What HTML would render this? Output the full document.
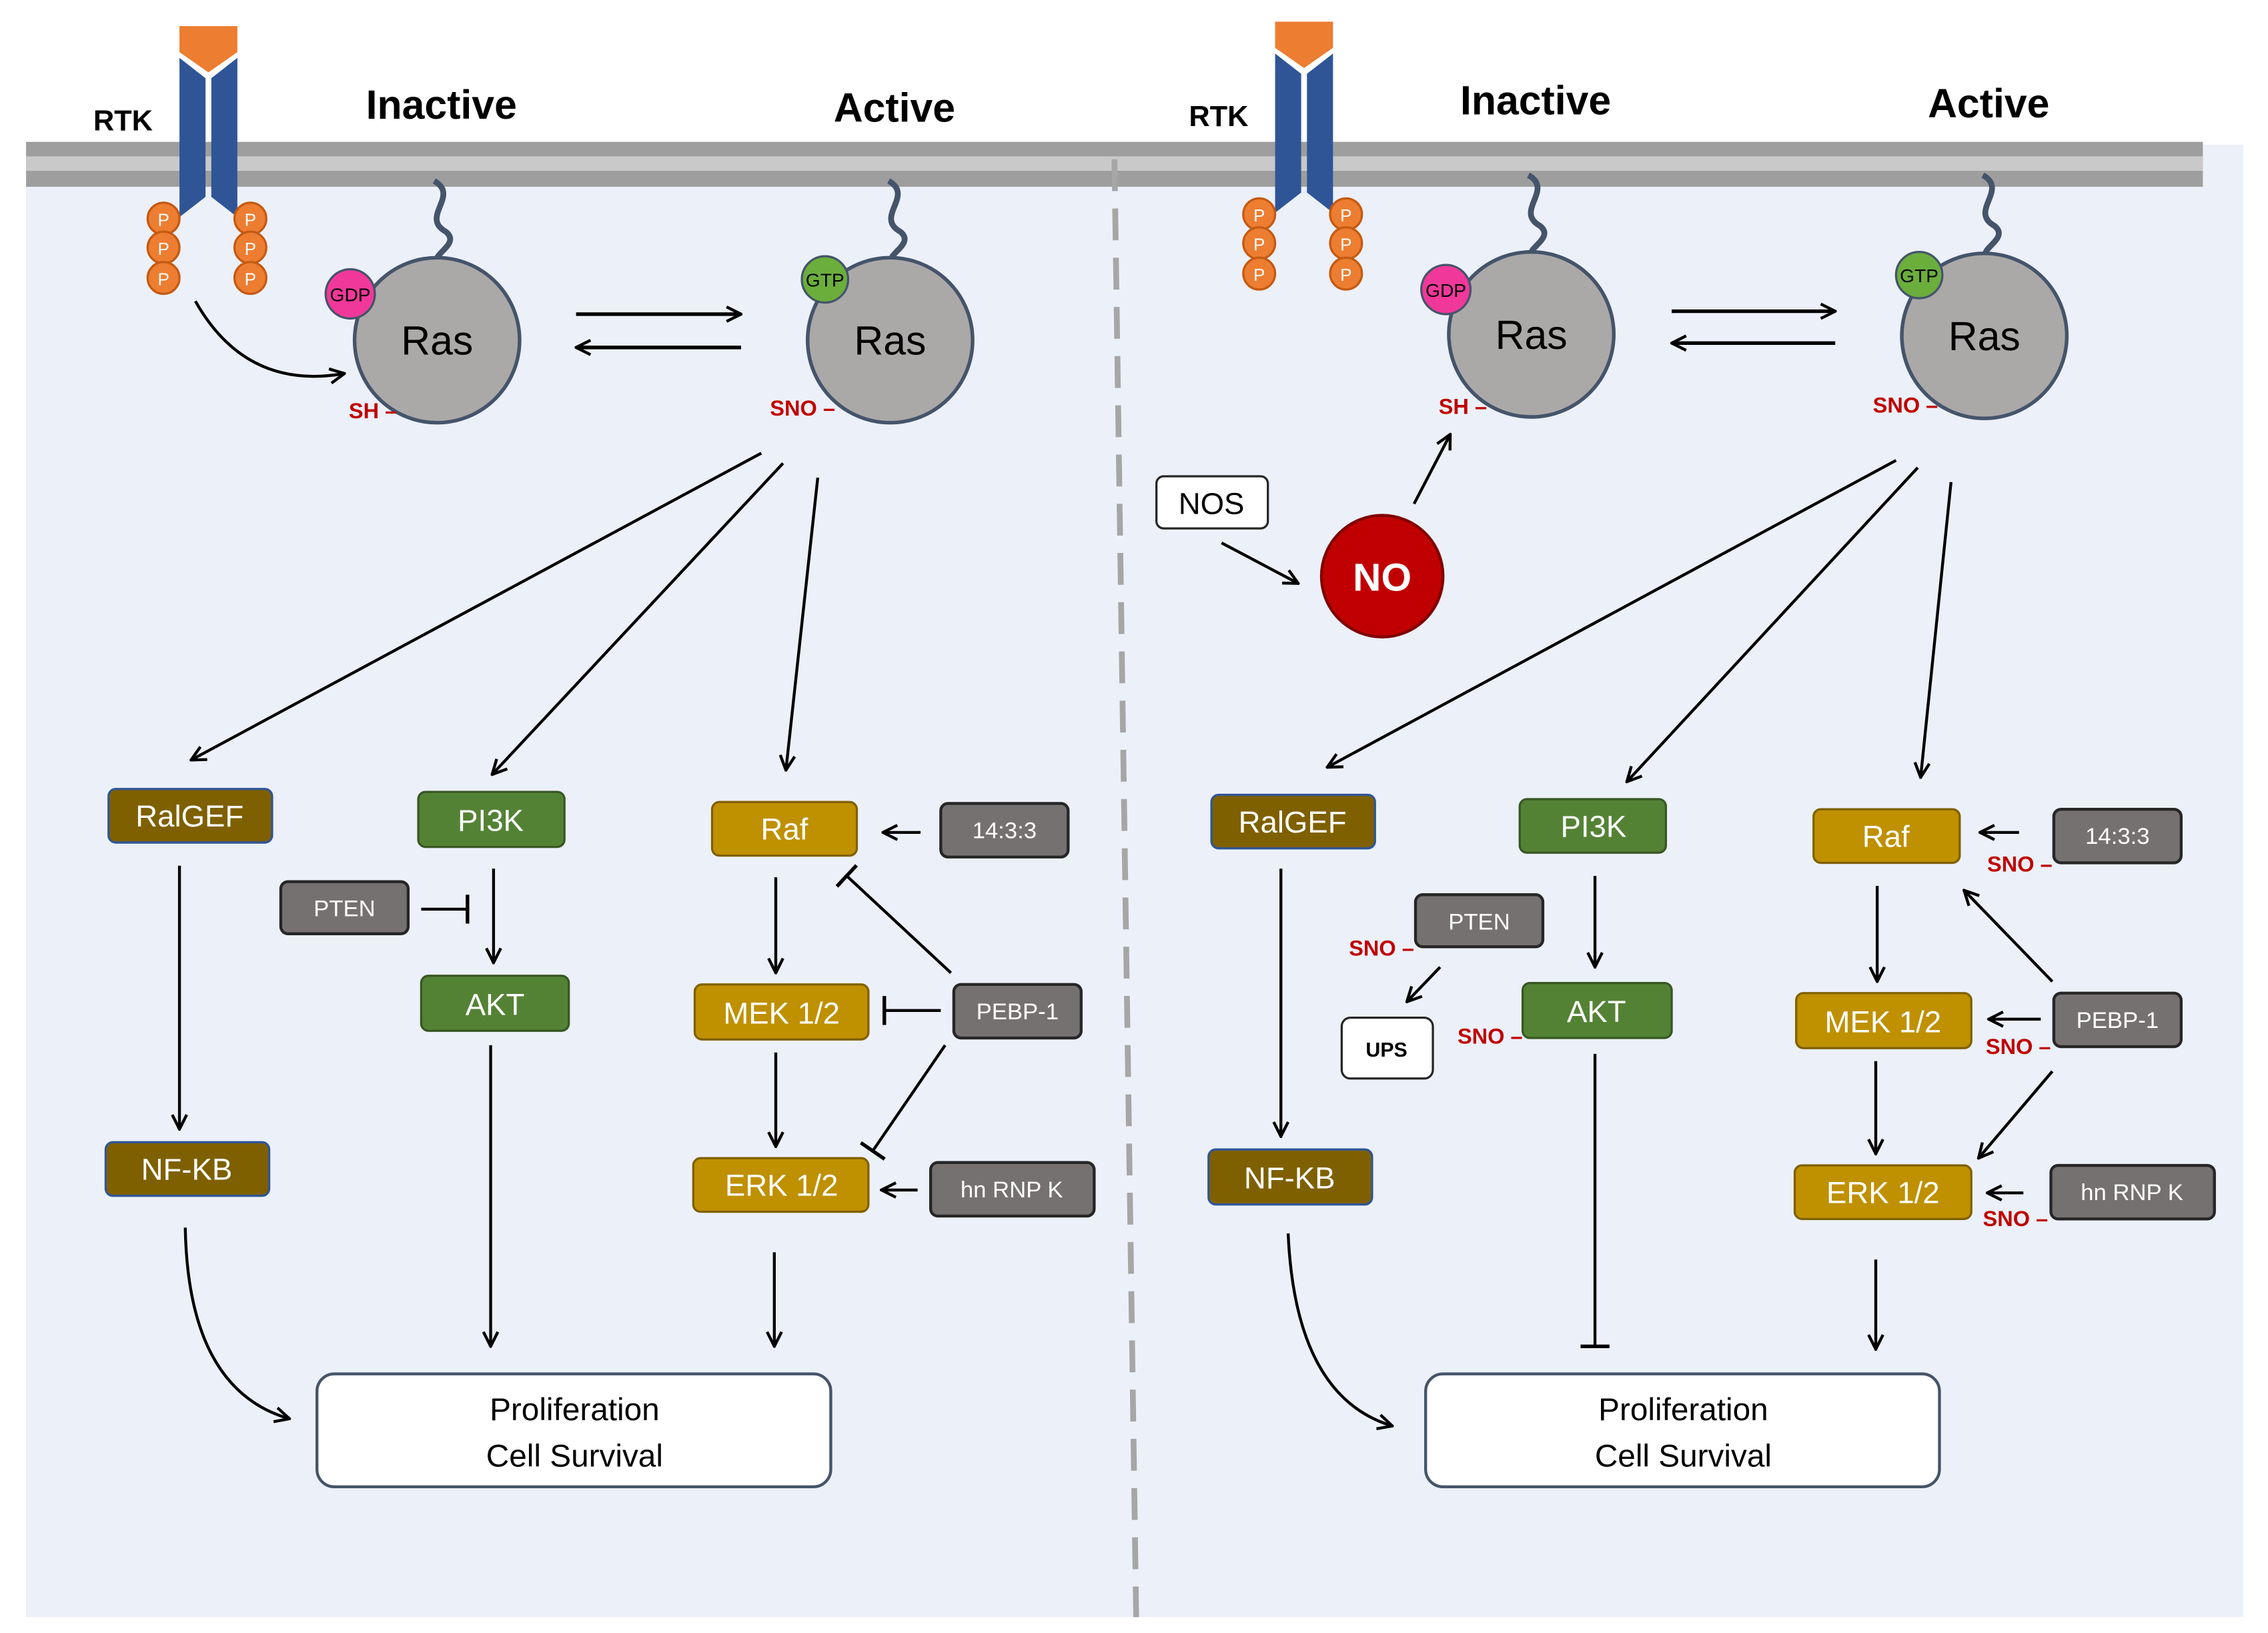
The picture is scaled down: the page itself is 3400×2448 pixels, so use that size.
<!DOCTYPE html>
<html><head><meta charset="utf-8"><style>
html,body{margin:0;padding:0;background:#fff}
svg{display:block}
text{font-family:"Liberation Sans",sans-serif}
</style></head><body>
<svg width="3400" height="2448" viewBox="0 0 1567 1128" preserveAspectRatio="none" xmlns="http://www.w3.org/2000/svg">
<defs>
<marker id="a" viewBox="0 0 12 12" refX="11" refY="6" markerWidth="12" markerHeight="12" markerUnits="userSpaceOnUse" orient="auto"><path d="M1,1 L11,6 L1,11" fill="none" stroke="#000" stroke-width="2"/></marker>
<marker id="b" viewBox="0 0 4 20" refX="2" refY="10" markerWidth="4" markerHeight="20" markerUnits="userSpaceOnUse" orient="auto"><path d="M2,0 L2,20" stroke="#000" stroke-width="2.5"/></marker>
</defs>
<rect x="18" y="100" width="1532" height="1017" fill="#ECF0F9"/>
<rect x="18" y="98" width="1504" height="31" fill="#9E9E9E"/>
<rect x="18" y="108" width="1504" height="10" fill="#C9C9C9"/>
<line x1="770" y1="110" x2="785" y2="1117" stroke="#A6A6A6" stroke-width="4" stroke-dasharray="22 12"/>

<g id="rtk">
<polygon points="124,18 164,18 164,36 144,50 124,36" fill="#ED7D31"/>
<polygon points="124,40 142,54 142,136 124,150" fill="#2F5597"/>
<polygon points="164,40 146,54 146,136 164,150" fill="#2F5597"/>
<g fill="#ED7D31" stroke="#C55A11" stroke-width="1.5">
<circle cx="113" cy="151" r="11"/><circle cx="113" cy="171" r="11"/><circle cx="113" cy="192" r="11"/>
<circle cx="173" cy="151" r="11"/><circle cx="173" cy="171" r="11"/><circle cx="173" cy="192" r="11"/>
</g>
<g fill="#fff" font-size="12" text-anchor="middle"><text x="113" y="156">P</text><text x="113" y="176">P</text><text x="113" y="197">P</text><text x="173" y="156">P</text><text x="173" y="176">P</text><text x="173" y="197">P</text></g>
</g>

<!-- LEFT PANEL -->
<text x="85" y="90" font-size="20" font-weight="bold" text-anchor="middle">RTK</text>
<text x="305" y="82" font-size="28" font-weight="bold" text-anchor="middle">Inactive</text>
<text x="618" y="84" font-size="28" font-weight="bold" text-anchor="middle">Active</text>
<path d="M135,208 Q170,270 238,258" fill="none" stroke="#000" stroke-width="2" marker-end="url(#a)"/>
<path d="M300,125 C318,135 290,150 308,160 C318,168 300,175 302,180" fill="none" stroke="#44546A" stroke-width="4"/>
<circle cx="302" cy="235" r="57" fill="#ABA8A8" stroke="#44546A" stroke-width="2.5"/>
<circle cx="242" cy="203" r="17" fill="#F0389A" stroke="#44546A" stroke-width="1.5"/>
<text x="242" y="208" font-size="13" text-anchor="middle">GDP</text>
<text x="302" y="245" font-size="28" text-anchor="middle">Ras</text>
<text x="241" y="289" font-size="15" font-weight="bold" fill="#C00000">SH –</text>
<path d="M614,125 C632,135 604,150 622,160 C632,168 614,175 616,180" fill="none" stroke="#44546A" stroke-width="4"/>
<circle cx="615" cy="235" r="57" fill="#ABA8A8" stroke="#44546A" stroke-width="2.5"/>
<circle cx="570" cy="193" r="16" fill="#6BAE3C" stroke="#44546A" stroke-width="1.5"/>
<text x="570" y="198" font-size="13" text-anchor="middle">GTP</text>
<text x="615" y="245" font-size="28" text-anchor="middle">Ras</text>
<text x="532" y="287" font-size="15" font-weight="bold" fill="#C00000">SNO –</text>
<g stroke="#000" stroke-width="2.5" fill="none"><line x1="398" y1="217" x2="512" y2="217" marker-end="url(#a)"/><line x1="512" y1="240" x2="398" y2="240" marker-end="url(#a)"/></g>
<g stroke="#000" stroke-width="2" fill="none">
<line x1="526" y1="313" x2="132" y2="525" marker-end="url(#a)"/>
<line x1="541" y1="320" x2="340" y2="535" marker-end="url(#a)"/>
<line x1="565" y1="330" x2="543" y2="532" marker-end="url(#a)"/>
<line x1="124" y1="598" x2="124" y2="780" marker-end="url(#a)"/>
<line x1="341" y1="600" x2="341" y2="665" marker-end="url(#a)"/>
<line x1="291" y1="628" x2="323" y2="628" marker-end="url(#b)"/>
<line x1="339" y1="722" x2="339" y2="930" marker-end="url(#a)"/>
<line x1="536" y1="606" x2="536" y2="672" marker-end="url(#a)"/>
<line x1="536" y1="727" x2="536" y2="792" marker-end="url(#a)"/>
<line x1="636" y1="575" x2="610" y2="575" marker-end="url(#a)"/>
<line x1="657" y1="672" x2="585" y2="605" marker-end="url(#b)"/>
<line x1="650" y1="698" x2="611" y2="698" marker-end="url(#b)"/>
<line x1="653" y1="722" x2="603" y2="795" marker-end="url(#b)"/>
<line x1="634" y1="822" x2="609" y2="822" marker-end="url(#a)"/>
<line x1="535" y1="865" x2="535" y2="930" marker-end="url(#a)"/>
<path d="M128,848 Q130,960 200,980" marker-end="url(#a)"/>
</g>

<g font-size="21" fill="#fff" text-anchor="middle" stroke-width="1.5">
<rect x="75" y="545" width="113" height="37" rx="5" fill="#7F6000" stroke="#2F5597"/><text x="131" y="571">RalGEF</text>
<rect x="289" y="547" width="101" height="38" rx="5" fill="#548235" stroke="#385723"/><text x="339" y="574">PI3K</text>
<rect x="492" y="554" width="100" height="37" rx="5" fill="#BF9000" stroke="#7F6000"/><text x="542" y="580">Raf</text>
<rect x="291" y="674" width="102" height="38" rx="5" fill="#548235" stroke="#385723"/><text x="342" y="701">AKT</text>
<rect x="480" y="680" width="120" height="38" rx="5" fill="#BF9000" stroke="#7F6000"/><text x="540" y="707">MEK 1/2</text>
<rect x="73" y="789" width="113" height="37" rx="5" fill="#7F6000" stroke="#2F5597"/><text x="129" y="815">NF-KB</text>
<rect x="479" y="800" width="121" height="37" rx="5" fill="#BF9000" stroke="#7F6000"/><text x="540" y="826">ERK 1/2</text>
</g>
<g font-size="16" fill="#fff" text-anchor="middle" stroke-width="2">
<rect x="650" y="555" width="88" height="37" rx="5" fill="#767171" stroke="#262626"/><text x="694" y="579">14:3:3</text>
<rect x="194" y="609" width="88" height="36" rx="5" fill="#767171" stroke="#262626"/><text x="238" y="633">PTEN</text>
<rect x="659" y="680" width="88" height="37" rx="5" fill="#767171" stroke="#262626"/><text x="703" y="704">PEBP-1</text>
<rect x="643" y="803" width="113" height="37" rx="5" fill="#767171" stroke="#262626"/><text x="699" y="827">hn RNP K</text>
</g>
<rect x="219" y="949" width="355" height="78" rx="12" fill="#fff" stroke="#44546A" stroke-width="2"/>
<text x="397" y="981" font-size="22" text-anchor="middle">Proliferation</text>
<text x="397" y="1013" font-size="22" text-anchor="middle">Cell Survival</text>

<!-- RIGHT PANEL -->
<use href="#rtk" transform="translate(757,-3)"/>
<text x="842" y="87" font-size="20" font-weight="bold" text-anchor="middle">RTK</text>
<text x="1061" y="79" font-size="28" font-weight="bold" text-anchor="middle">Inactive</text>
<text x="1374" y="81" font-size="28" font-weight="bold" text-anchor="middle">Active</text>
<path d="M1056,121 C1074,131 1046,146 1064,156 C1074,164 1056,171 1058,176" fill="none" stroke="#44546A" stroke-width="4"/>
<circle cx="1058" cy="231" r="57" fill="#ABA8A8" stroke="#44546A" stroke-width="2.5"/>
<circle cx="999" cy="200" r="17" fill="#F0389A" stroke="#44546A" stroke-width="1.5"/>
<text x="999" y="205" font-size="13" text-anchor="middle">GDP</text>
<text x="1058" y="241" font-size="28" text-anchor="middle">Ras</text>
<text x="994" y="286" font-size="15" font-weight="bold" fill="#C00000">SH –</text>
<path d="M1370,121 C1388,131 1360,146 1378,156 C1388,164 1370,171 1372,176" fill="none" stroke="#44546A" stroke-width="4"/>
<circle cx="1371" cy="232" r="57" fill="#ABA8A8" stroke="#44546A" stroke-width="2.5"/>
<circle cx="1326" cy="190" r="16" fill="#6BAE3C" stroke="#44546A" stroke-width="1.5"/>
<text x="1326" y="195" font-size="13" text-anchor="middle">GTP</text>
<text x="1371" y="242" font-size="28" text-anchor="middle">Ras</text>
<text x="1294" y="285" font-size="15" font-weight="bold" fill="#C00000">SNO –</text>
<g stroke="#000" stroke-width="2.5" fill="none"><line x1="1155" y1="215" x2="1268" y2="215" marker-end="url(#a)"/><line x1="1268" y1="237" x2="1155" y2="237" marker-end="url(#a)"/></g>
<rect x="799" y="329" width="77" height="36" rx="5" fill="#fff" stroke="#262626" stroke-width="1.5"/>
<text x="837" y="355" font-size="21" text-anchor="middle">NOS</text>
<circle cx="955" cy="398" r="42" fill="#C00000" stroke="#7F0000" stroke-width="2"/>
<text x="955" y="408" font-size="27" font-weight="bold" fill="#fff" text-anchor="middle">NO</text>
<g stroke="#000" stroke-width="2" fill="none">
<line x1="844" y1="375" x2="897" y2="403" marker-end="url(#a)"/>
<line x1="977" y1="348" x2="1002" y2="300" marker-end="url(#a)"/>
<line x1="1310" y1="318" x2="917" y2="530" marker-end="url(#a)"/>
<line x1="1325" y1="323" x2="1124" y2="540" marker-end="url(#a)"/>
<line x1="1348" y1="333" x2="1327" y2="537" marker-end="url(#a)"/>
<line x1="885" y1="600" x2="885" y2="785" marker-end="url(#a)"/>
<line x1="1102" y1="605" x2="1102" y2="668" marker-end="url(#a)"/>
<line x1="995" y1="668" x2="972" y2="692" marker-end="url(#a)"/>
<line x1="1102" y1="728" x2="1102" y2="930" marker-end="url(#b)"/>
<line x1="1395" y1="575" x2="1368" y2="575" marker-end="url(#a)"/>
<line x1="1418" y1="678" x2="1357" y2="615" marker-end="url(#a)"/>
<line x1="1410" y1="704" x2="1374" y2="704" marker-end="url(#a)"/>
<line x1="1418" y1="740" x2="1367" y2="800" marker-end="url(#a)"/>
<line x1="1398" y1="824" x2="1373" y2="824" marker-end="url(#a)"/>
<line x1="1297" y1="612" x2="1297" y2="678" marker-end="url(#a)"/>
<line x1="1296" y1="733" x2="1296" y2="797" marker-end="url(#a)"/>
<line x1="1296" y1="870" x2="1296" y2="932" marker-end="url(#a)"/>
<path d="M890,852 Q895,965 962,985" marker-end="url(#a)"/>
</g>
<g font-size="21" fill="#fff" text-anchor="middle" stroke-width="1.5">
<rect x="837" y="549" width="113" height="37" rx="5" fill="#7F6000" stroke="#2F5597"/><text x="893" y="575">RalGEF</text>
<rect x="1050" y="552" width="101" height="37" rx="5" fill="#548235" stroke="#385723"/><text x="1101" y="578">PI3K</text>
<rect x="1253" y="559" width="101" height="37" rx="5" fill="#BF9000" stroke="#7F6000"/><text x="1303" y="585">Raf</text>
<rect x="1052" y="679" width="103" height="38" rx="5" fill="#548235" stroke="#385723"/><text x="1103" y="706">AKT</text>
<rect x="1241" y="686" width="121" height="38" rx="5" fill="#BF9000" stroke="#7F6000"/><text x="1301" y="713">MEK 1/2</text>
<rect x="835" y="794" width="113" height="38" rx="5" fill="#7F6000" stroke="#2F5597"/><text x="891" y="821">NF-KB</text>
<rect x="1240" y="805" width="122" height="37" rx="5" fill="#BF9000" stroke="#7F6000"/><text x="1301" y="831">ERK 1/2</text>
</g>
<g font-size="16" fill="#fff" text-anchor="middle" stroke-width="2">
<rect x="1419" y="559" width="88" height="37" rx="5" fill="#767171" stroke="#262626"/><text x="1463" y="583">14:3:3</text>
<rect x="978" y="618" width="88" height="36" rx="5" fill="#767171" stroke="#262626"/><text x="1022" y="642">PTEN</text>
<rect x="1419" y="686" width="88" height="37" rx="5" fill="#767171" stroke="#262626"/><text x="1463" y="710">PEBP-1</text>
<rect x="1417" y="805" width="113" height="37" rx="5" fill="#767171" stroke="#262626"/><text x="1473" y="829">hn RNP K</text>
</g>
<rect x="927" y="703" width="63" height="42" rx="6" fill="#fff" stroke="#262626" stroke-width="1.5"/>
<text x="958" y="730" font-size="14" font-weight="bold" text-anchor="middle">UPS</text>
<g font-size="15" font-weight="bold" fill="#C00000">
<text x="1373" y="602">SNO –</text>
<text x="932" y="660">SNO –</text>
<text x="1007" y="721">SNO –</text>
<text x="1372" y="728">SNO –</text>
<text x="1370" y="847">SNO –</text>
</g>
<rect x="985" y="949" width="355" height="78" rx="12" fill="#fff" stroke="#44546A" stroke-width="2"/>
<text x="1163" y="981" font-size="22" text-anchor="middle">Proliferation</text>
<text x="1163" y="1013" font-size="22" text-anchor="middle">Cell Survival</text>
</svg>
</body></html>
